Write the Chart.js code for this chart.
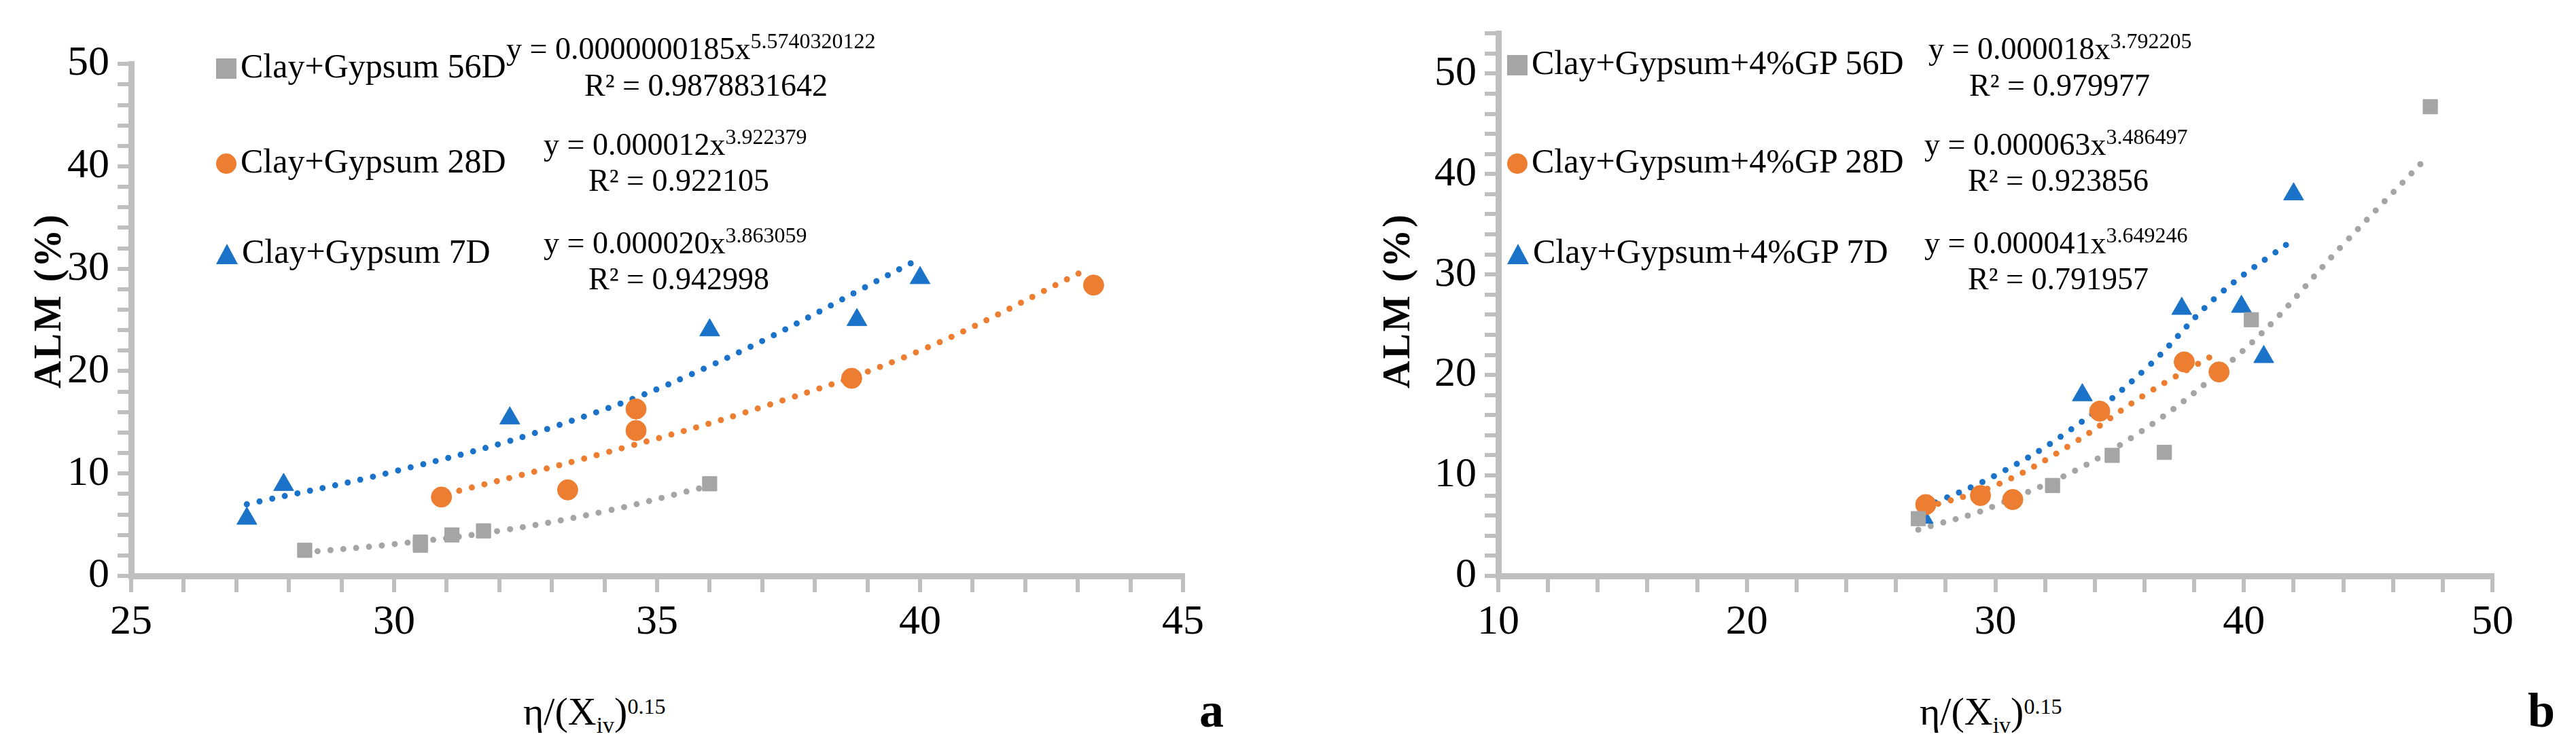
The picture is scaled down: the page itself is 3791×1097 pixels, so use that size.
<!DOCTYPE html>
<html><head><meta charset="utf-8">
<script src="https://cdn.jsdelivr.net/npm/chart.js@4/dist/chart.umd.min.js"></script>
<style>
body{margin:0;width:3791px;height:1097px;background:#fff;position:relative;overflow:hidden;font-family:"Liberation Serif","Times New Roman",Times,"DejaVu Serif",serif;}
.c{position:absolute;}
.t{position:absolute;font-size:50px;line-height:56px;white-space:nowrap;color:#000;}
.eq{font-size:46px;}
sup{font-size:32px;vertical-align:16px;line-height:0}
sub{font-size:34px;vertical-align:-12px;line-height:0}
.mk{display:inline-block;width:30px;height:30px;margin-right:6px;vertical-align:-2px}
.ytitle{position:absolute;font-size:56px;font-weight:bold;transform:rotate(-90deg);transform-origin:center;white-space:nowrap;letter-spacing:3px}
.lab{position:absolute;font-size:72px;font-weight:bold}
.xt{font-size:58px}
</style></head><body>
<div class="c" style="left:73px;top:45px;width:1707px;height:898px"><canvas id="ca"></canvas></div>
<div class="c" style="left:2085px;top:0px;width:1622px;height:943px"><canvas id="cb"></canvas></div>

<div class="t" style="left:318px;top:69px"><span class="mk" style="background:#a5a5a5"></span>Clay+Gypsum 56D</div>
<div class="t eq" style="left:745px;top:44px">y = 0.0000000185x<sup>5.5740320122</sup></div>
<div class="t eq" style="left:860px;top:98px">R² = 0.9878831642</div>
<div class="t" style="left:318px;top:209px"><span class="mk" style="background:#ed7d31;border-radius:50%"></span>Clay+Gypsum 28D</div>
<div class="t eq" style="left:800px;top:185px">y = 0.000012x<sup>3.922379</sup></div>
<div class="t eq" style="left:866px;top:238px">R² = 0.922105</div>
<div class="t" style="left:318px;top:342px"><span class="mk" style="width:0;height:0;border-left:16px solid transparent;border-right:16px solid transparent;border-bottom:30px solid #1a73c8"></span>Clay+Gypsum 7D</div>
<div class="t eq" style="left:800px;top:330px">y = 0.000020x<sup>3.863059</sup></div>
<div class="t eq" style="left:866px;top:383px">R² = 0.942998</div>
<div class="ytitle" style="left:-40px;top:430px;width:220px;text-align:center">ALM (%)</div>
<div class="t xt" style="left:770px;top:1020px">η/(X<sub>iv</sub>)<sup>0.15</sup></div>
<div class="lab" style="left:1765px;top:1005px">a</div>

<div class="t" style="left:2218px;top:64px"><span class="mk" style="background:#a5a5a5"></span>Clay+Gypsum+4%GP 56D</div>
<div class="t eq" style="left:2838px;top:44px">y = 0.000018x<sup>3.792205</sup></div>
<div class="t eq" style="left:2898px;top:98px">R² = 0.979977</div>
<div class="t" style="left:2218px;top:209px"><span class="mk" style="background:#ed7d31;border-radius:50%"></span>Clay+Gypsum+4%GP 28D</div>
<div class="t eq" style="left:2832px;top:185px">y = 0.000063x<sup>3.486497</sup></div>
<div class="t eq" style="left:2896px;top:238px">R² = 0.923856</div>
<div class="t" style="left:2218px;top:342px"><span class="mk" style="width:0;height:0;border-left:16px solid transparent;border-right:16px solid transparent;border-bottom:30px solid #1a73c8"></span>Clay+Gypsum+4%GP 7D</div>
<div class="t eq" style="left:2832px;top:330px">y = 0.000041x<sup>3.649246</sup></div>
<div class="t eq" style="left:2896px;top:383px">R² = 0.791957</div>
<div class="ytitle" style="left:1945px;top:430px;width:220px;text-align:center">ALM (%)</div>
<div class="t xt" style="left:2825px;top:1020px">η/(X<sub>iv</sub>)<sup>0.15</sup></div>
<div class="lab" style="left:3720px;top:1005px">b</div>
<script>
const GRAY='#a5a5a5', ORANGE='#ed7d31', BLUE='#1a73c8';
const FONT='"Liberation Serif", "Times New Roman", Times, serif';
// Chart a data
const a56x=[28.3,30.5,30.5,31.1,31.7,36.0], a56y=[2.5,3.0,3.3,4.0,4.4,9.0];
const a28x=[30.9,33.3,34.6,34.6,38.7,43.3], a28y=[7.7,8.4,16.3,14.2,19.3,28.4];
const a7x=[27.2,27.9,32.2,36.0,38.8,40.0], a7y=[5.6,8.9,15.4,24.0,25.0,29.1];
const a56tx=[28.3,30,32,34,36], a56ty=[2.3,3.1,4.4,6.3,8.8];
const a28tx=[31,34,37,40,43.2], a28ty=[8.0,12.0,16.5,22.0,30.0];
const a7tx=[27.2,30,33,36,40], a7ty=[7.0,10.2,14.5,20.5,31.0];
// Chart b data
const b56x=[26.9,32.3,34.7,36.8,40.3,47.5], b56y=[5.7,9.0,12.0,12.3,25.5,46.7];
const b28x=[27.2,29.4,30.7,34.2,37.6,39.0], b28y=[7.1,8.0,7.6,16.4,21.3,20.3];
const b7x=[27.1,33.5,37.5,39.9,40.8,42.0], b7y=[5.8,18.0,26.6,26.8,21.8,38.0];
const b56tx=[26.9,30,35,40,44,47.3], b56ty=[4.6,7.0,13.0,22.5,33.0,41.5];
const b28tx=[27.2,30,33,36,39], b28ty=[6.8,9.0,13.0,18.0,22.3];
const b7tx=[27.1,30,33,36,39,42], b7ty=[6.8,10.0,14.5,20.5,28.0,33.5];

const pts=(xs,ys)=>xs.map((x,i)=>({x,y:ys[i]}));
function trend(xs,ys,c){return {type:'line',data:pts(xs,ys),borderColor:c,borderWidth:9,borderDash:[0,19],borderCapStyle:'round',pointRadius:0,tension:0.4,fill:false,order:2};}
function sc(xs,ys,c,st){return {type:'scatter',data:pts(xs,ys),backgroundColor:c,borderColor:c,pointStyle:st,pointRadius:st==='triangle'?17:15,order:1};}
function opts(xmin,xmax,xstep,ymax,pad){
 return {responsive:true,maintainAspectRatio:false,animation:false,
  layout:{padding:pad},
  plugins:{legend:{display:false},tooltip:{enabled:false}},
  scales:{
   x:{type:'linear',min:xmin,max:xmax,afterFit:s=>{s.height=95},
     border:{color:'#bfbfbf',width:9},
     grid:{drawOnChartArea:false,color:'#bfbfbf',lineWidth:6,tickLength:24,offset:false},
     ticks:{autoSkip:false,maxRotation:0,color:'#000',font:{family:FONT,size:62},padding:8,
       callback:v=>(Math.abs(v/((xmax-xmin)/4)-Math.round(v/((xmax-xmin)/4)))<1e-6)?v:''},
     afterBuildTicks:s=>{const t=[];for(let v=xmin;v<=xmax+1e-9;v+=xstep)t.push({value:+v.toFixed(3)});s.ticks=t;}},
   y:{type:'linear',min:0,max:ymax,afterFit:s=>{s.width=120},
     border:{color:'#bfbfbf',width:9},
     grid:{drawOnChartArea:false,color:'#bfbfbf',lineWidth:6,tickLength:20},
     ticks:{autoSkip:false,color:'#000',font:{family:FONT,size:62},padding:12,callback:v=>(v%10===0&&v<=50)?v:''},
     afterBuildTicks:s=>{const t=[];for(let v=0;v<=ymax;v+=2)t.push({value:v});s.ticks=t;}}
  }};
}
new Chart(document.getElementById('ca'),{data:{datasets:[
 trend(a56tx,a56ty,GRAY),trend(a28tx,a28ty,ORANGE),trend(a7tx,a7ty,BLUE),
 sc(a56x,a56y,GRAY,'rect'),sc(a28x,a28y,ORANGE,'circle'),sc(a7x,a7y,BLUE,'triangle')]},
 options:opts(25,45,1,50,{top:20,right:20,left:0,bottom:0})});
new Chart(document.getElementById('cb'),{data:{datasets:[
 trend(b56tx,b56ty,GRAY),trend(b28tx,b28ty,ORANGE),trend(b7tx,b7ty,BLUE),
 sc(b56x,b56y,GRAY,'rect'),sc(b28x,b28y,ORANGE,'circle'),sc(b7x,b7y,BLUE,'triangle')]},
 options:opts(10,50,2,54,{top:40,right:20,left:0,bottom:0})});
</script></body></html>
